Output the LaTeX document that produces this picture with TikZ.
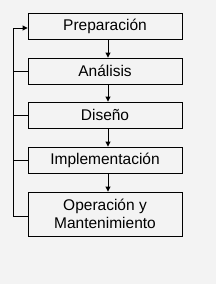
\documentclass[tikz,border=0pt]{standalone}
\usepackage{fontspec}
\setmainfont{Liberation Sans}
\usetikzlibrary{arrows.meta}
\definecolor{fondo}{HTML}{F3F3F3}
\begin{document}
\begin{tikzpicture}[x=1pt,y=-1pt,line width=0.9pt,
  caja/.style={draw,minimum width=154pt,minimum height=26pt,inner sep=0pt,
    align=center,font=\fontsize{15.5}{18}\selectfont},
  flecha/.style={-{Triangle[length=5pt,width=5pt]}}]
\fill[fondo] (0,0) rectangle (216,284);
\node[caja] (prep) at (105,26) {Preparación};
\node[caja] (anal) at (105,71) {Análisis};
\node[caja] (dise) at (105,115) {Diseño};
\node[caja] (impl) at (105,160) {Implementación};
\node[caja,minimum height=44pt] (oper) at (105,214) {Operación y\\Mantenimiento};
\draw[flecha] ([xshift=3pt]prep.south) -- ([xshift=3pt]anal.north);
\draw[flecha] ([xshift=3pt]anal.south) -- ([xshift=3pt]dise.north);
\draw[flecha] ([xshift=3pt]dise.south) -- ([xshift=3pt]impl.north);
\draw[flecha] ([xshift=3pt]impl.south) -- ([xshift=3pt]oper.north);
\coordinate (lado) at (13,0);
\draw[flecha] ([yshift=-2pt]oper.west) -| ([yshift=-2pt]prep.west -| lado) -- ([yshift=-2pt]prep.west);
\foreach \n in {anal,dise,impl}
  \draw (\n.west) -- (\n.west -| lado);
\end{tikzpicture}
\end{document}
